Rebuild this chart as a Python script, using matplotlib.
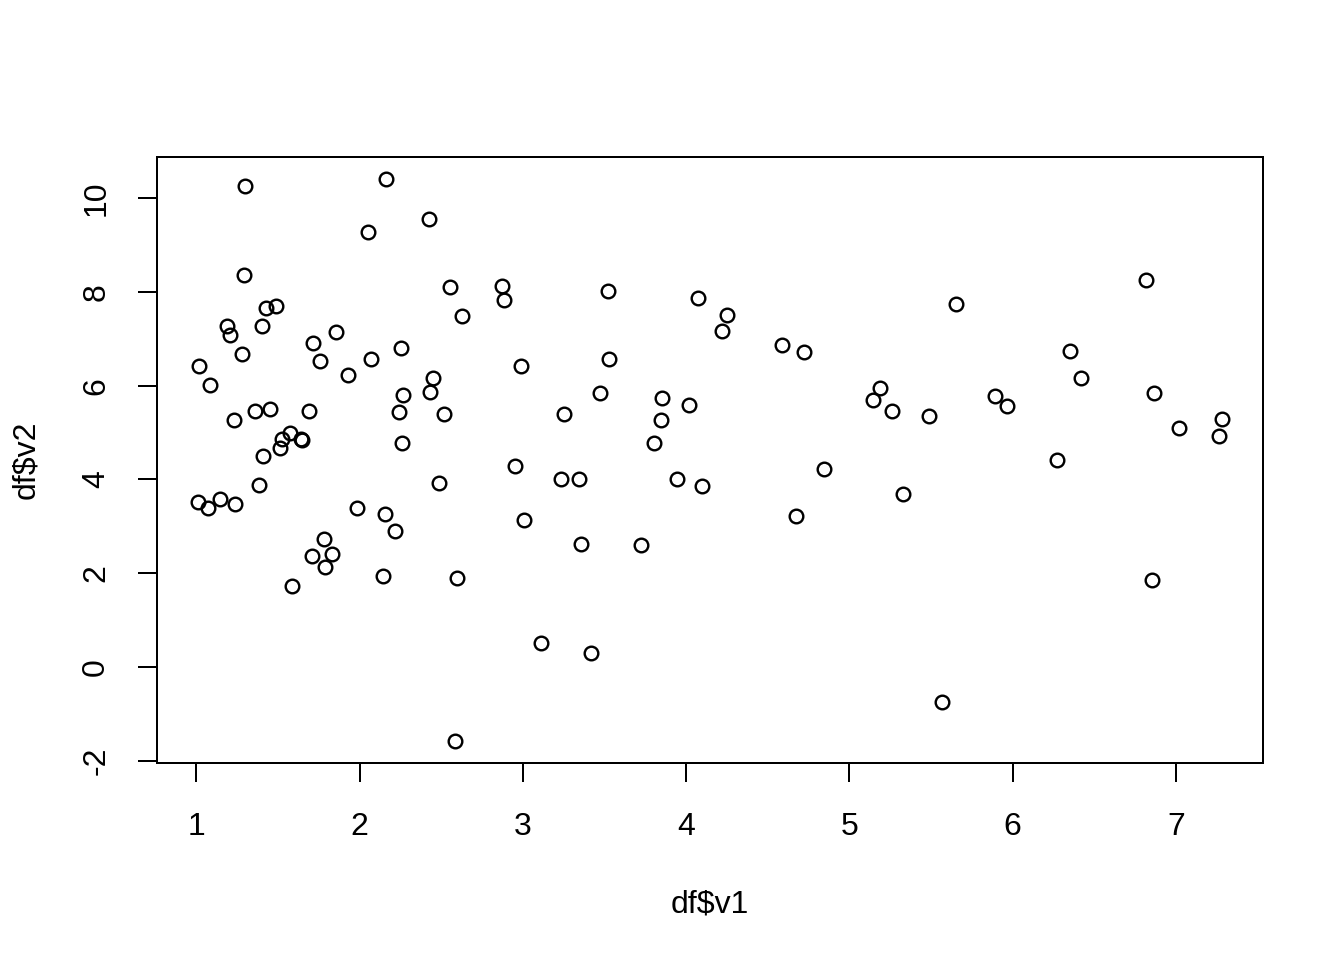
import matplotlib

matplotlib.use("Agg")
import matplotlib.pyplot as plt

plt.rcParams["font.family"] = ["Liberation Sans", "DejaVu Sans"]

# df$v1 / df$v2 values
v1 = [
    1.298, 2.161, 2.424, 2.051, 1.292, 2.556, 2.627, 1.424, 1.488, 1.190,
    1.206, 1.402, 1.855, 1.714, 2.255, 1.280, 1.757, 2.070, 1.016, 1.084,
    1.929, 2.451, 2.431, 2.265, 1.231, 1.359, 1.449, 1.692, 2.241, 2.517,
    1.574, 1.524, 1.640, 1.650, 1.510, 2.259, 1.408, 1.382, 1.010, 1.072,
    1.145, 1.237, 1.984, 2.155, 2.216, 2.486, 1.780, 1.708, 1.830, 1.786,
    1.586, 2.143, 2.596, 2.584, 2.872, 2.884, 3.520, 4.075, 4.249, 4.222,
    2.988, 3.525, 3.470, 3.249, 3.851, 3.845, 4.016, 3.802, 2.950, 3.232,
    3.343, 3.941, 4.096, 3.005, 3.353, 3.723, 3.110, 3.417, 5.651, 4.590,
    4.720, 5.190, 5.143, 5.260, 5.490, 5.890, 5.963, 4.843, 5.327, 4.672,
    5.566, 6.815, 6.349, 6.417, 6.867, 7.017, 7.282, 7.261, 6.274, 6.851,
]
v2 = [
    10.25, 10.40, 9.55, 9.28, 8.36, 8.11, 7.49, 7.66, 7.71, 7.28,
    7.09, 7.28, 7.15, 6.92, 6.81, 6.68, 6.53, 6.57, 6.42, 6.01,
    6.23, 6.17, 5.86, 5.80, 5.27, 5.47, 5.51, 5.47, 5.44, 5.39,
    5.00, 4.87, 4.86, 4.85, 4.68, 4.78, 4.50, 3.89, 3.52, 3.40,
    3.58, 3.48, 3.40, 3.26, 2.91, 3.93, 2.74, 2.37, 2.42, 2.14,
    1.73, 1.95, 1.90, -1.57, 8.13, 7.83, 8.02, 7.88, 7.51, 7.17,
    6.42, 6.58, 5.85, 5.40, 5.74, 5.27, 5.58, 4.77, 4.28, 4.00,
    4.00, 4.02, 3.87, 3.14, 2.63, 2.61, 0.52, 0.29, 7.75, 6.87,
    6.72, 5.96, 5.69, 5.47, 5.36, 5.78, 5.57, 4.23, 3.70, 3.23,
    -0.75, 8.25, 6.74, 6.17, 5.84, 5.10, 5.29, 4.93, 4.42, 1.86,
]
x_ticks = [1, 2, 3, 4, 5, 6, 7]
y_ticks = [-2, 0, 2, 4, 6, 8, 10]

fig = plt.figure(figsize=(7, 5), dpi=192)
ax = fig.add_axes([157 / 1344, 1 - 763 / 960, 1106 / 1344, 606 / 960])
ax.plot(v1, v2, "o", ms=5.1, mfc="none", mec="black", mew=0.9, ls="none")

# R-style 4% padding around the data range
xr = max(v1) - min(v1)
yr = max(v2) - min(v2)
ax.set_xlim(min(v1) - 0.04 * xr, max(v1) + 0.04 * xr)
ax.set_ylim(min(v2) - 0.04 * yr, max(v2) + 0.04 * yr)

ax.set_xticks(x_ticks)
ax.set_yticks(y_ticks)
ax.set_yticklabels([str(t) for t in y_ticks], rotation=90, va="center")
ax.tick_params(axis="both", length=7.2, width=0.75, labelsize=12, direction="out")
ax.tick_params(axis="x", pad=11)
ax.tick_params(axis="y", pad=10)
for s in ax.spines.values():
    s.set_linewidth(0.75)

ax.set_xlabel("df$v1", fontsize=12, labelpad=18)
ax.set_ylabel("df$v2", fontsize=12, labelpad=15)

fig.savefig("out.png", dpi=192)
plt.close(fig)
